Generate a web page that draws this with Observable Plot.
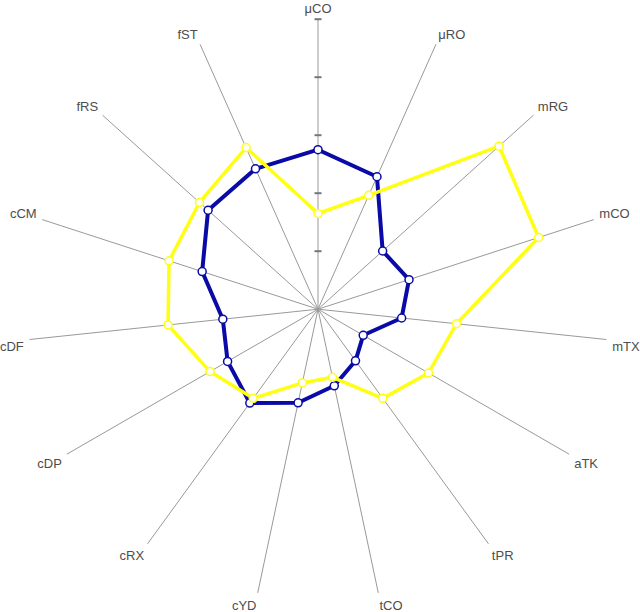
<!DOCTYPE html>
<html>
<head>
<meta charset="utf-8">
<script src="https://cdn.jsdelivr.net/npm/d3@7"></script>
<script src="https://cdn.jsdelivr.net/npm/@observablehq/plot@0.6"></script>
<style>
  html, body { margin: 0; padding: 0; background: #fff; }
  #chart svg { display: block; }
</style>
</head>
<body>
<div id="chart"></div>
<script>
// ---- data ----
const categories = ["μCO","μRO","mRG","mCO","mTX","aTK","tPR","tCO","cYD","cRX","cDP","cDF","cCM","fRS","fST"];
const seriesBlue   = [55, 50, 30, 33, 29, 18, 22, 27, 33, 40, 36, 33, 42, 51, 53];
const seriesYellow = [33, 43, 84, 80, 48, 44, 38, 24, 26, 38, 43, 52, 54, 55, 61];
const tickValues = [20, 40, 60, 80, 100];
const maxValue = 100;

// ---- layout ----
const cx = 317.5, cy = 308.7, R = 290;
const labelRadius = maxValue * 1.02;
const blue = "#0a0aa6", yellow = "#ffff14";

const n = categories.length;
const ang = i => 2 * Math.PI * i / n;
const polar = (v, i) => ({x: v * Math.sin(ang(i)), y: v * Math.cos(ang(i))});

const spokes = categories.map((name, i) => ({name, ...polar(maxValue, i)}));
const points = (values, series) => values.map((v, i) => ({series, name: categories[i], ...polar(v, i)}));
const bluePts = points(seriesBlue, "A");
const yellowPts = points(seriesYellow, "B");
const ticks = tickValues.map(t => ({t}));
const labels = categories.map((name, i) => ({name, s: Math.sin(ang(i)), c: Math.cos(ang(i)), ...polar(labelRadius, i)}));

const tickSymbol = {draw(ctx) { ctx.moveTo(-3.5, 0); ctx.lineTo(3.5, 0); }};

const eps = 1e-6;
const labelGroups = [
  {f: d => Math.abs(d.s) < eps, textAnchor: "middle", lineAnchor: "bottom", dy: 0},
  {f: d => d.s >= eps && d.c > 0, textAnchor: "start", lineAnchor: "bottom", dy: 0},
  {f: d => d.s >= eps && d.c <= 0, textAnchor: "start", lineAnchor: "top", dy: 2},
  {f: d => d.s <= -eps && d.c <= 0, textAnchor: "end", lineAnchor: "top", dy: 2},
  {f: d => d.s <= -eps && d.c > 0, textAnchor: "end", lineAnchor: "bottom", dy: 0}
];

const chart = Plot.plot({
  width: 640,
  height: 612,
  margin: 0,
  style: {fontFamily: "'Liberation Sans', Arial, Helvetica, sans-serif", background: "white"},
  x: {axis: null, domain: [-maxValue, maxValue], range: [cx - R, cx + R]},
  y: {axis: null, domain: [-maxValue, maxValue], range: [cy + R, cy - R]},
  marks: [
    Plot.link(spokes, {x1: 0, y1: 0, x2: "x", y2: "y", stroke: "#999", strokeWidth: 1}),
    Plot.dot(ticks, {x: 0, y: "t", symbol: tickSymbol, r: 4, stroke: "#6f7780", strokeWidth: 2, fill: "none"}),
    Plot.line(bluePts, {x: "x", y: "y", curve: "linear-closed", stroke: blue, strokeWidth: 4, strokeLinejoin: "round"}),
    Plot.dot(bluePts, {x: "x", y: "y", r: 4, fill: "white", stroke: blue, strokeWidth: 1.5}),
    Plot.line(yellowPts, {x: "x", y: "y", curve: "linear-closed", stroke: yellow, strokeWidth: 3.5, strokeLinejoin: "round"}),
    Plot.dot(yellowPts, {x: "x", y: "y", r: 4, fill: "white", stroke: yellow, strokeWidth: 1.5}),
    ...labelGroups.map(g => Plot.text(labels.filter(g.f), {
      x: "x", y: "y", text: "name",
      textAnchor: g.textAnchor, lineAnchor: g.lineAnchor, dy: g.dy,
      fontSize: 13, fill: "#4d4d4d"
    }))
  ]
});
document.getElementById("chart").appendChild(chart);
</script>
</body>
</html>
